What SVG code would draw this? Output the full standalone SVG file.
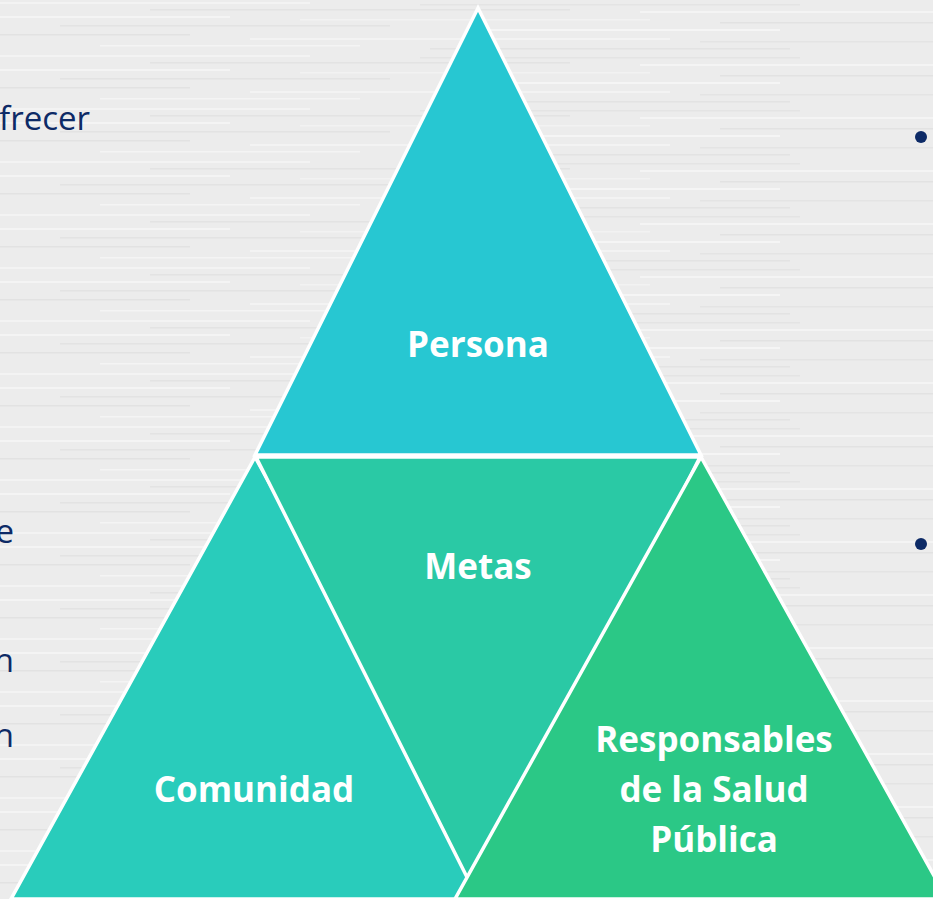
<svg xmlns="http://www.w3.org/2000/svg" width="933" height="899" viewBox="0 0 933 899">
<defs>
<pattern id="wood" x="0" y="0" width="933" height="53" patternUnits="userSpaceOnUse">
<rect width="933" height="53" fill="#ececec"/>
<rect x="0" y="2" width="310" height="2" fill="#f3f3f3"/>
<rect x="420" y="4" width="380" height="1.5" fill="#e4e4e4"/>
<rect x="150" y="9" width="420" height="1.5" fill="#e3e3e3"/>
<rect x="640" y="11" width="293" height="2" fill="#f4f4f4"/>
<rect x="0" y="16" width="230" height="2" fill="#f4f4f4"/>
<rect x="300" y="19" width="350" height="1.5" fill="#f2f2f2"/>
<rect x="720" y="22" width="213" height="1.5" fill="#e2e2e2"/>
<rect x="60" y="25" width="330" height="1.5" fill="#e3e3e3"/>
<rect x="480" y="29" width="300" height="2" fill="#f5f5f5"/>
<rect x="0" y="34" width="190" height="1.5" fill="#e2e2e2"/>
<rect x="250" y="38" width="420" height="2" fill="#f3f3f3"/>
<rect x="700" y="41" width="233" height="1.5" fill="#e4e4e4"/>
<rect x="100" y="45" width="260" height="1.5" fill="#f4f4f4"/>
<rect x="430" y="48" width="360" height="1.5" fill="#e3e3e3"/>
</pattern>
<style>
.tri{stroke:#ffffff;stroke-width:3.5;stroke-linejoin:miter}
.lbl{font-family:"Open Sans","Liberation Sans",sans-serif;font-weight:bold;font-size:35px;fill:#ffffff;text-anchor:middle}
.body{font-family:"Open Sans","Liberation Sans",sans-serif;font-size:33px;fill:#0d2a66}
</style>
</defs>
<rect width="933" height="899" fill="url(#wood)"/>
<g id="side-text">
<text class="body" x="90" y="130" text-anchor="end">frecer</text>
<text class="body" x="14" y="543" text-anchor="end">e</text>
<text class="body" x="14" y="672" text-anchor="end">n</text>
<text class="body" x="14" y="747" text-anchor="end">n</text>
<circle cx="921" cy="137" r="6" fill="#0d2a66"/>
<circle cx="921" cy="544" r="6" fill="#0d2a66"/>
</g>
<g id="persona">
<polygon class="tri" points="478,8 255,455 701,455" fill="#27c7d2"/>
<text class="lbl" x="478" y="357">Persona</text>
</g>
<g id="comunidad">
<polygon class="tri" points="255,457 11,899 499,899" fill="#29ccbb"/>
<text class="lbl" x="254" y="802">Comunidad</text>
</g>
<g id="metas">
<polygon class="tri" points="256,457 700,457 478,899" fill="#2ac9a5"/>
<text class="lbl" x="478" y="579">Metas</text>
</g>
<g id="responsables">
<polygon class="tri" points="701,457 455,899 947,899" fill="#2bc886"/>
<text class="lbl" x="714" y="752">Responsables</text>
<text class="lbl" x="714" y="802">de la Salud</text>
<text class="lbl" x="714" y="852">Pública</text>
</g>
<g id="connectors"/>
</svg>
